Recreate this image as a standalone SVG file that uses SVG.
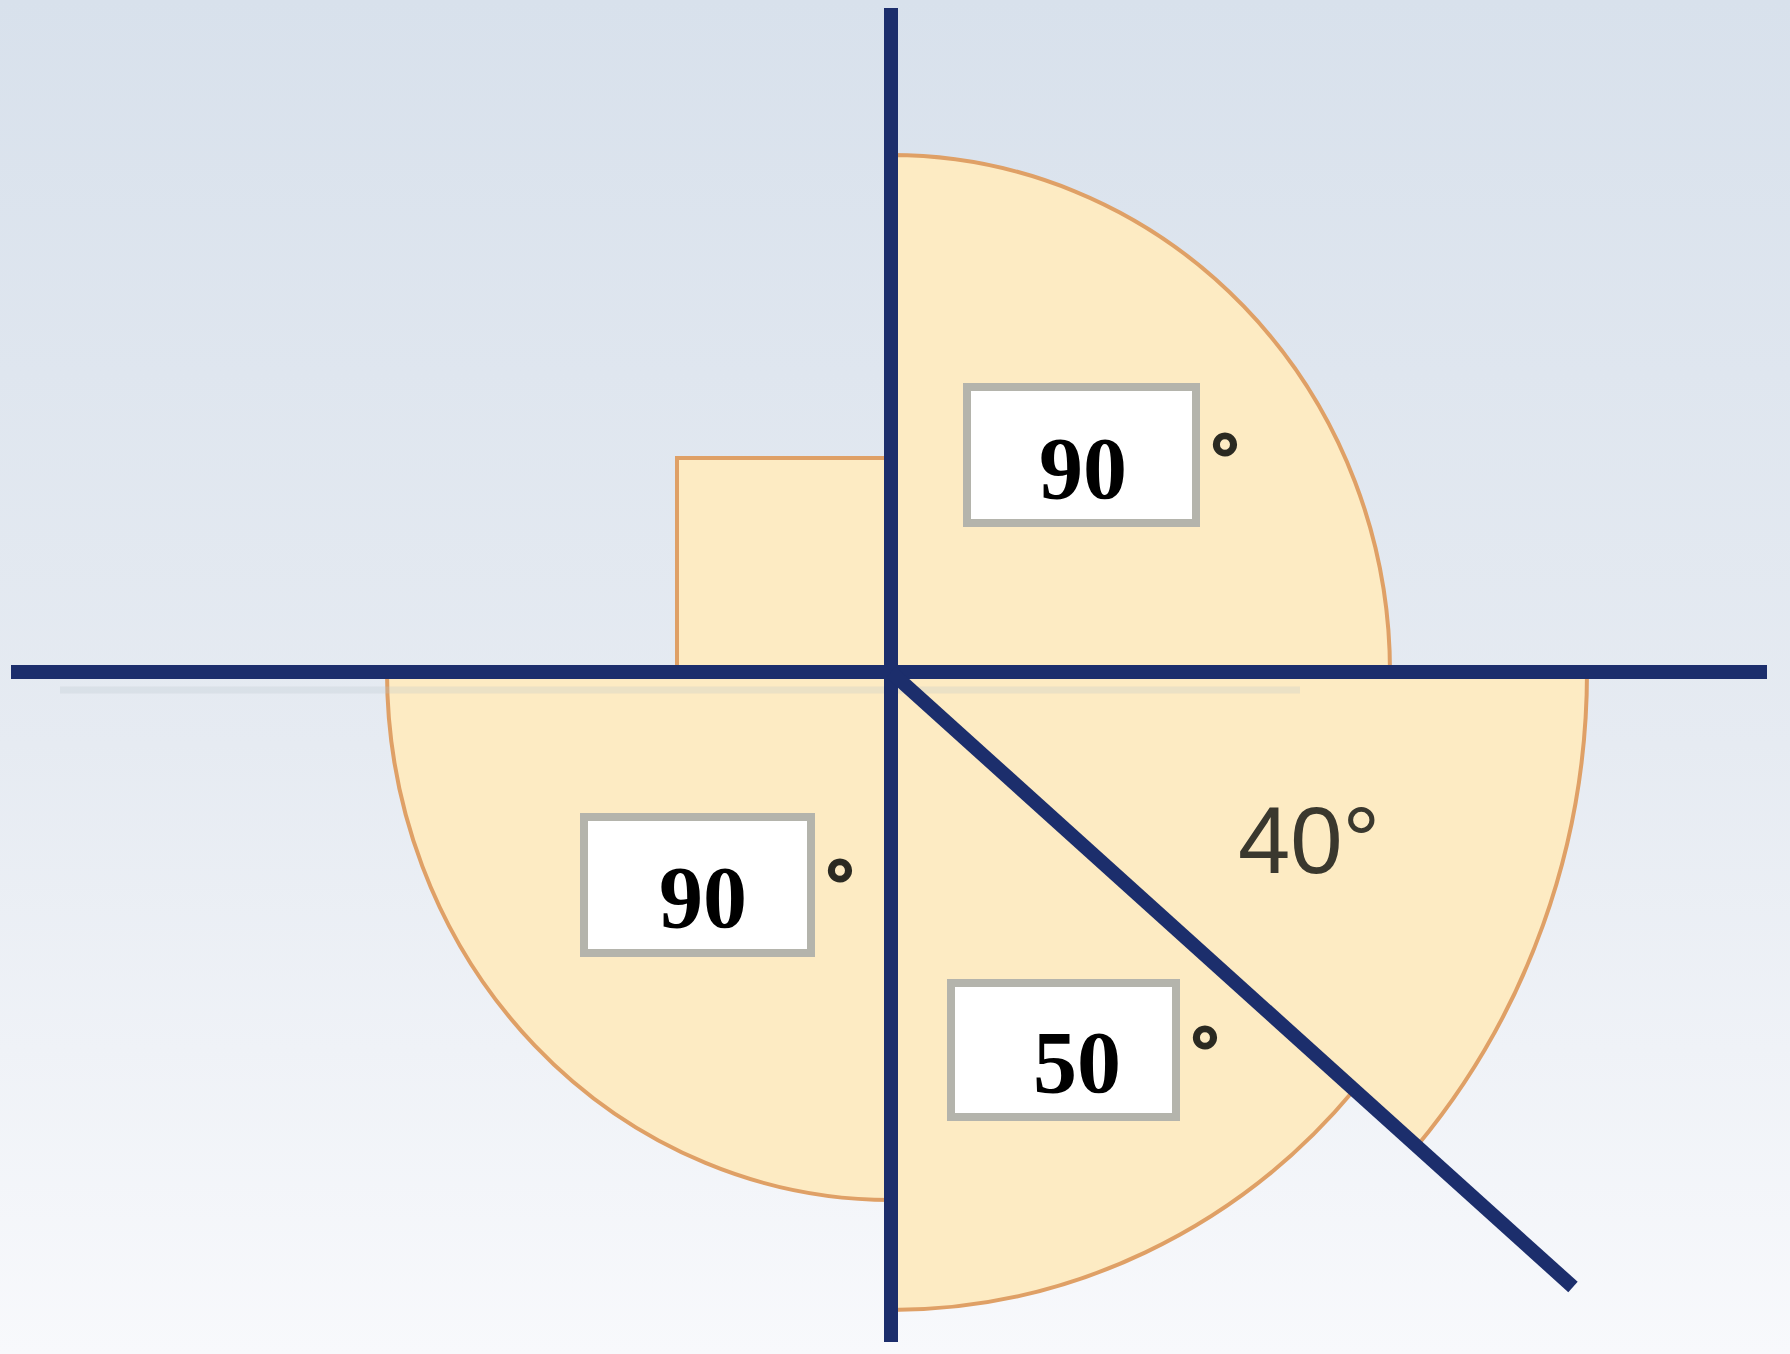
<svg xmlns="http://www.w3.org/2000/svg" width="1790" height="1354" viewBox="0 0 1790 1354">
<defs>
<linearGradient id="bg" x1="0" y1="0" x2="0" y2="1">
<stop offset="0" stop-color="#d8e1ec"/>
<stop offset="0.55" stop-color="#e6ebf2"/>
<stop offset="1" stop-color="#f8f9fc"/>
</linearGradient>
<style>
.sec{fill:#fdebc3;stroke:#dfa066;stroke-width:4}
.ax{stroke:#1c2e6c;stroke-width:14;fill:none}
.sh{stroke:#b9c2cc;stroke-width:7;fill:none;opacity:0.25}
.box{fill:#ffffff;stroke:#b4b4ac;stroke-width:8}
.val{font-family:"Liberation Serif","Times New Roman",serif;font-weight:bold;font-size:88px;fill:#000;text-anchor:middle}
.deg{font-family:"Liberation Serif","Times New Roman",serif;font-weight:bold;font-size:70px;fill:#2b2a22;stroke:#2b2a22;stroke-width:3;text-anchor:middle}
.lab{font-family:"Liberation Sans",Arial,sans-serif;font-size:94px;fill:#3a382e}
</style>
</defs>
<rect width="1790" height="1354" fill="url(#bg)"/>
<g id="shapes">
<path id="sector-top" class="sec" d="M891,672 L891,155 A499,517 0 0 1 1390,672 Z"/>
<rect id="square" class="sec" x="677" y="458" width="214" height="214" stroke-width="3"/>
<path id="sector-left" class="sec" d="M891,672 L891,1200 A504,528 0 0 1 387,672 Z"/>
<path id="sector-40" class="sec" d="M891,672 L1587,672 A696,724 0 0 1 1417,1146 Z"/>
<path id="sector-50" class="sec" d="M891,672 L1354,1090 A613,638 0 0 1 891,1310 Z"/>
</g>
<g id="connectors">
<g id="shadows">
<line class="sh" x1="60" y1="690" x2="1300" y2="690"/>
</g>
<line id="axis-v" class="ax" x1="891" y1="8" x2="891" y2="1342"/>
<line id="axis-h" class="ax" x1="11" y1="672" x2="1767" y2="672"/>
<line id="ray" class="ax" x1="891" y1="672" x2="1573" y2="1287"/>
</g>
<g id="box-top">
<rect class="box" x="967" y="387" width="229" height="136"/>
<text class="val" x="1083" y="498">90</text>
<text class="deg" x="1225" y="480">°</text>
</g>
<g id="box-left">
<rect class="box" x="584" y="817" width="227" height="136"/>
<text class="val" x="703" y="927">90</text>
<text class="deg" x="840" y="906">°</text>
</g>
<g id="box-bottom">
<rect class="box" x="951" y="983" width="225" height="134"/>
<text class="val" x="1077" y="1092">50</text>
<text class="deg" x="1205" y="1073">°</text>
</g>
<g id="label-40">
<text class="lab" x="1238" y="873">40°</text>
</g>
</svg>
